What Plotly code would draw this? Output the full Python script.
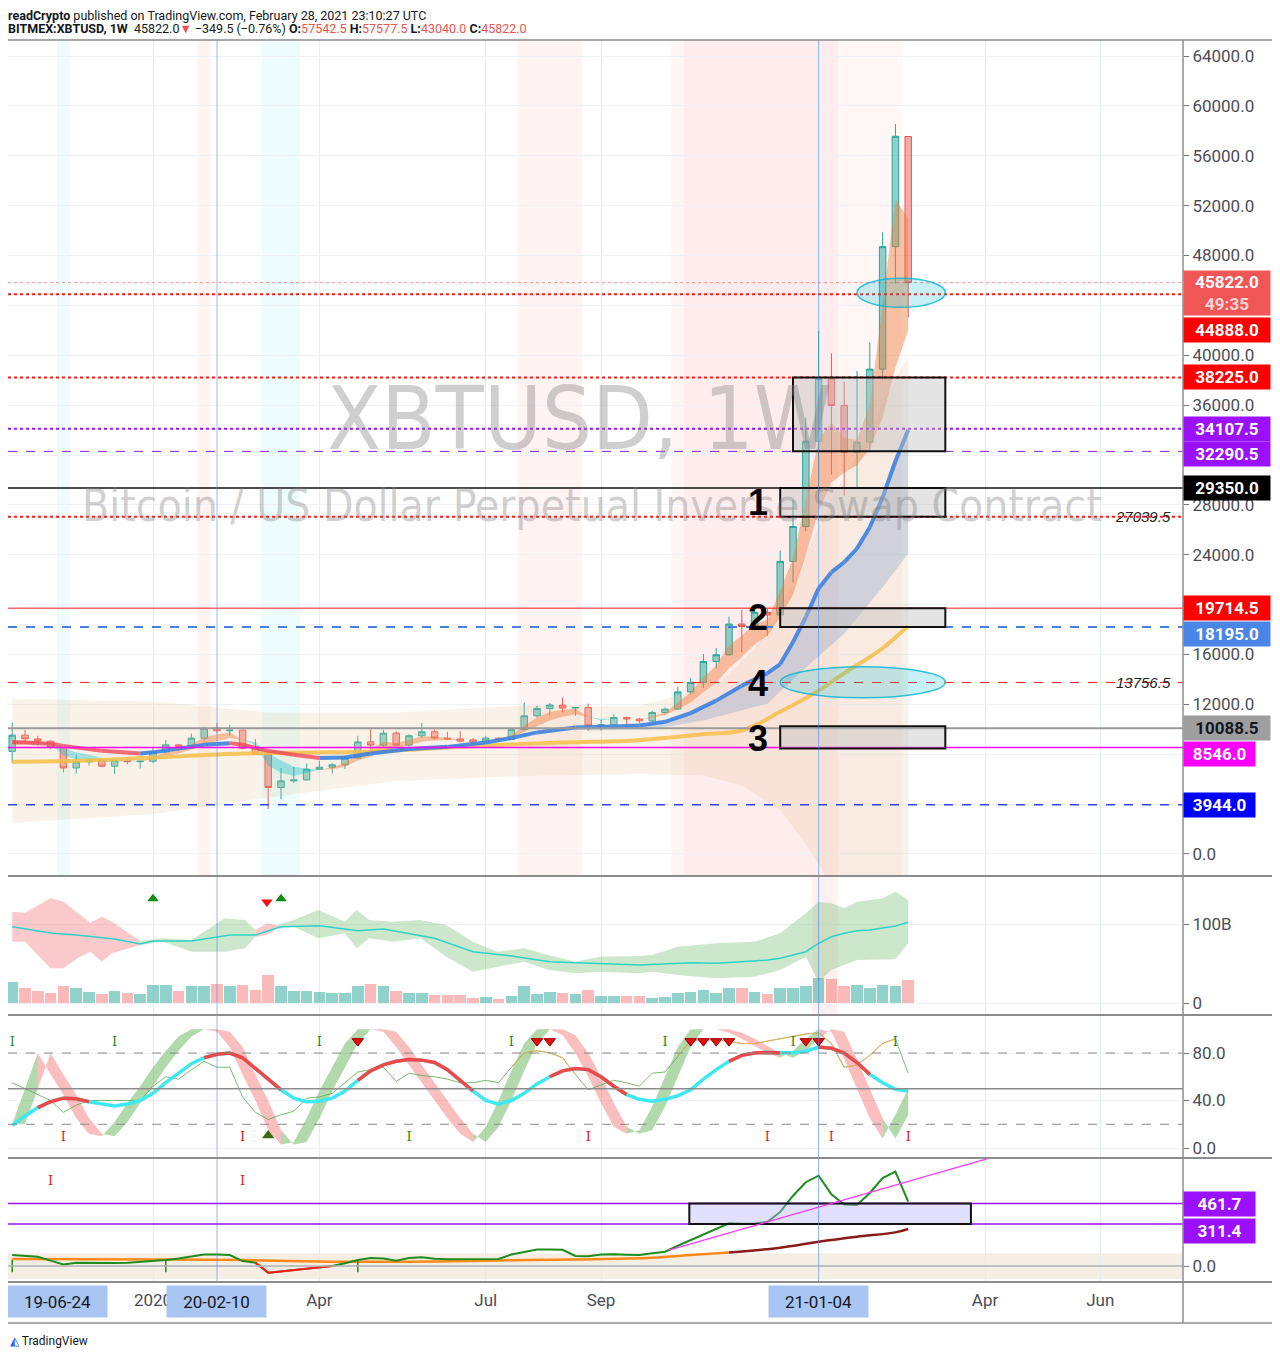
import pandas as pd
import plotly.graph_objects as go
from plotly.subplots import make_subplots

# ---- canvas: the page puts the figure 8px in from the corner, so work in page pixels ----
PAGE_W, PAGE_H, OFF = 1280, 1358, 8
W, H = PAGE_W - OFF, PAGE_H - OFF
X0, X1, Y0, Y1 = 8, 1183, 40, 1282      # plot area in page pixels
ML, MR, MT, MB = X0 - OFF, PAGE_W - X1, Y0 - OFF, PAGE_H - Y1
PW, PH = X1 - X0, Y1 - Y0


def xp(px):
    return (px - X0) / PW


def yp(py):
    return (Y1 - py) / PH


# ---- weekly candles BITMEX:XBTUSD (first bar 2019-10-21) ----
first_week = pd.Timestamp("2019-10-21")
opens = [8230, 9530, 9230, 9050, 8540, 6900, 7390, 7550, 7040, 7520, 7400, 7440, 8190, 8750, 8620, 9290,
         10080, 9880, 9930, 8450, 8020, 5330, 5860, 5940, 6800, 6960, 7150, 7690, 8990, 8730, 9690, 8730,
         9480, 9800, 9290, 9230, 9150, 8980, 9290, 9180, 9990, 11080, 11670, 11940, 11700, 11750, 10280,
         10360, 10950, 10820, 10680, 11350, 11620, 13000, 13760, 15440, 15980, 18440, 18250, 19380, 19170,
         23470, 26260, 33110, 38120, 35970, 32230, 33030, 38890, 48710, 57542.5]
highs = [10540, 9950, 9480, 9100, 8550, 7950, 7650, 7560, 7520, 7700, 7500, 8500, 9150, 8800, 9660, 10200,
         10500, 10370, 9950, 9230, 8180, 6900, 6980, 7250, 7470, 7300, 7800, 9480, 10150, 9960, 9850, 9600,
         10490, 10000, 9800, 9870, 9300, 9450, 9350, 10000, 12150, 11900, 12100, 12550, 11800, 12070, 10750,
         11200, 11000, 10900, 11500, 11750, 13400, 14100, 16040, 16500, 19030, 19570, 19570, 19650, 24330,
         28400, 34990, 41950, 40150, 37860, 38750, 41030, 49860, 58540, 57577.5]
lows = [7300, 8950, 8700, 8400, 6550, 6440, 7100, 6950, 6420, 7200, 6850, 7300, 8100, 8250, 8550, 9100,
        9700, 9480, 8400, 7950, 3596, 4400, 5700, 5900, 6750, 6450, 6800, 7600, 8200, 8600, 8650, 8600,
        9300, 9200, 9200, 8950, 8900, 8950, 9000, 9150, 9900, 10950, 11080, 11350, 11080, 9880, 9900,
        10250, 10280, 10500, 10550, 11200, 11550, 12800, 13300, 14900, 15900, 16170, 18000, 17500, 19000,
        21780, 25880, 28100, 30430, 28740, 29340, 32300, 38040, 45750, 43040]
closes = [9530, 9230, 9050, 8540, 6900, 7390, 7550, 7040, 7520, 7400, 7440, 8190, 8750, 8620, 9290, 10080,
          9880, 9930, 8450, 8020, 5330, 5860, 5940, 6800, 6960, 7150, 7690, 8990, 8730, 9690, 8730, 9480,
          9800, 9290, 9230, 9050, 8980, 9290, 9180, 9990, 11080, 11670, 11940, 11700, 11750, 10280, 10360,
          10950, 10820, 10680, 11350, 11620, 13000, 13760, 15440, 15980, 18440, 18250, 19380, 19170, 23470,
          26260, 33110, 38120, 35970, 32230, 33030, 38890, 48710, 57560, 45822.0]
# volume, billions of contracts
volumes = [26, 19, 15, 13, 21, 19, 14, 11, 15, 13, 11, 23, 23, 15, 22, 22, 24, 21, 23, 17, 35, 21, 15, 15,
           14, 13, 13, 22, 24, 21, 15, 13, 13, 10, 10, 10, 6, 8, 5, 9, 21, 11, 14, 13, 11, 16, 9, 9, 9, 9,
           6, 8, 13, 14, 16, 13, 19, 19, 14, 11, 19, 19, 22, 32, 30, 22, 23, 19, 23, 21, 29]

# fast ribbon (two short averages)
rib_fast = [8990, 9100, 9050, 8800, 7900, 7600, 7580, 7350, 7420, 7420, 7430, 7750, 8200, 8400, 8800, 9350,
            9600, 9750, 9200, 8700, 7100, 6500, 6250, 6500, 6750, 6950, 7300, 8100, 8400, 9000, 8900, 9150,
            9450, 9400, 9320, 9200, 9130, 9200, 9200, 9550, 10300, 10950, 11400, 11550, 11650, 11000, 10700,
            10800, 10820, 10750, 11050, 11350, 12150, 12950, 14200, 15100, 16750, 17500, 18450, 18800, 21100,
            23700, 28400, 33200, 34600, 33400, 33200, 36000, 44000, 52500, 51000]
rib_slow = [8700, 8800, 8850, 8850, 8500, 8150, 7950, 7700, 7600, 7500, 7450, 7600, 7850, 8050, 8350, 8750,
            9050, 9300, 9150, 8950, 8100, 7500, 7000, 6850, 6750, 6800, 7000, 7500, 7800, 8300, 8450, 8700,
            9000, 9100, 9150, 9150, 9130, 9150, 9160, 9350, 9800, 10250, 10700, 11000, 11200, 11000, 10850,
            10850, 10840, 10800, 10950, 11150, 11600, 12150, 13000, 13700, 14900, 15800, 16800, 17500, 19000,
            20800, 24000, 27500, 29800, 30600, 31200, 32500, 35000, 39000, 42000]

# slow averages (sampled at bar index)
ma_idx = [0, 3, 4, 7, 10, 11, 13, 15, 17, 18, 20, 22, 24, 26, 28, 31, 34, 37, 39, 41, 44, 47, 49, 51, 53,
          55, 57, 59, 60, 61, 62, 63, 64, 65, 66, 67, 68, 69, 70]
ma_val = [8990, 8850, 8670, 8270, 8050, 8150, 8450, 8750, 8890, 8760, 8270, 7950, 7700, 7740, 8050, 8410,
          8590, 8940, 9300, 9750, 10150, 10230, 10300, 10600, 11300, 12300, 13500, 14500, 15230, 17000,
          19000, 21300, 22600, 23400, 24500, 26200, 28600, 31500, 34000]
ma_low_idx = [44, 45, 50, 54, 59, 62, 65, 68, 70]
ma_low_val = [10150, 9900, 10000, 10700, 12050, 14960, 17660, 21400, 24090]
long_idx = [0, 5, 11, 18, 25, 30, 35, 43, 49, 54, 57, 60, 63, 65, 68, 70]
long_val = [7390, 7470, 7730, 8050, 8150, 8300, 8600, 8940, 9130, 9610, 9900, 11400, 13100, 14500, 16500, 18300]

# wide envelope
env_up_idx = [0, 11, 20, 30, 40, 49, 55, 58, 60, 62, 64, 66, 68, 70]
env_up_val = [12450, 12230, 11350, 11350, 11900, 11900, 13500, 16500, 19500, 24000, 28500, 32000, 36000, 40000]
env_lo_idx = [0, 11, 20, 30, 40, 49, 54, 57, 60, 62, 64, 67, 70]
env_lo_val = [2490, 3200, 4520, 5860, 6260, 6420, 6300, 5500, 3500, 800, -2500, -5500, -8000]

# volume pane oscillator line + band
vline_idx = [0, 3, 5, 8, 10, 11, 14, 17, 19, 21, 24, 27, 29, 33, 36, 39, 42, 45, 49, 53, 55, 57, 59, 60, 62,
             63, 64, 65, 66, 67, 68, 69, 70]
vline_val = [96.6, 88.6, 86.1, 81, 74.7, 78.5, 78.5, 86.1, 86.1, 96.6, 97.8, 91.5, 93.7, 81.9, 64.9, 59.5,
             52.3, 50.3, 48.1, 51, 50.3, 52.3, 54.4, 56.6, 64.9, 75.6, 83.9, 88.2, 91.5, 92.4, 94.6, 97.5, 102.2]
vband_idx = [0, 1, 3, 4, 5.1, 6.1, 7, 7.8, 10, 11.8, 14, 16.6, 18.2, 19, 19.9, 20.7, 22, 23.9, 26, 26.9, 27.9,
             29.7, 31.9, 33.9, 36, 37.9, 40, 41.9, 44, 45.9, 49, 50, 52, 55, 58, 60, 62, 63, 64, 65, 66, 68,
             69, 70]
vband_up = [115.6, 114.3, 132.5, 128.2, 114.3, 101.6, 109.3, 102.9, 78.5, 81.9, 79.7, 107.2, 105, 92.4, 100.9,
            98.7, 105, 117.7, 102.9, 117.7, 105, 102.9, 105, 98.7, 77.6, 64.9, 69.2, 60.8, 52.3, 58.6, 59.5,
            60.8, 71.3, 75.6, 77.6, 88.2, 113.5, 128.2, 126.2, 119.9, 128.2, 132.5, 140.9, 130.4]
vband_lo = [77.6, 77.6, 43.9, 43.9, 56.6, 64.9, 52.3, 62.9, 73.4, 77.6, 64.9, 64.9, 69.2, 83.9, 86.1, 94.6,
            96.6, 81.9, 88.2, 69.2, 81.9, 77.6, 81.9, 58.6, 39.6, 45.9, 52.3, 41.8, 37.6, 39.6, 37.6, 39.6,
            35.4, 31.3, 33.3, 41.8, 58.6, 27, 41.8, 48.1, 54.4, 55.3, 55.3, 75.6]
vband_red_spans = [(0, 10), (19, 20.7)]
vband_green_spans = [(10, 19), (20.7, 70)]

# stochastic pane
stoch_main = [19, 27, 34, 39, 42, 41.5, 39, 37, 35.4, 37, 40, 46, 55, 63, 71, 76, 79, 80, 76, 67, 58, 49, 42,
              39, 39.5, 42, 48, 57, 65, 70, 73, 74.5, 74, 72, 66, 57, 48, 40, 37, 40, 46, 54, 60, 65, 67, 66,
              60, 52, 45, 41, 39.5, 41, 44, 49, 58, 66, 73, 78, 80, 80.5, 80, 80.2, 81.5, 85, 84, 80, 72, 62,
              55, 49.5, 48]
stoch_red_spans = [(2, 6), (15, 21), (27, 36), (42, 48), (56, 60), (63, 67)]
stoch_fast = [20, 50, 80, 62, 45, 25, 12, 10, 22, 38, 52, 68, 82, 94, 100, 100, 98, 85, 62, 40, 15, 3, 5, 25,
              48, 68, 88, 100, 100, 98, 85, 70, 55, 40, 25, 12, 5, 18, 40, 65, 88, 100, 100, 95, 80, 60, 38,
              18, 12, 15, 35, 60, 85, 100, 100, 100, 97, 92, 86, 80, 76, 82, 92, 100, 98, 75, 50, 25, 8, 28, 50]
stoch_raw = [55, 50, 45, 40, 30, 36, 40, 40, 40, 40, 40, 52, 60, 58, 66, 73, 68, 68, 43, 30, 24, 28, 31, 42,
             43, 46, 55, 64, 66, 68, 56, 63, 61, 60, 58, 55, 55, 57, 55, 68, 80, 82, 80, 76, 62, 49, 53, 57,
             55, 52, 63, 64, 77, 91, 91, 91, 90, 88, 88, 90, 92, 94, 96, 97, 88, 68, 70, 78, 88, 92, 63]
raw_orange_spans = [(39, 44), (52, 69)]
tick_up_idx = [0, 8, 24, 39, 51, 61, 69]
tick_dn_idx = [4, 18, 45, 59, 64, 70]
tick_low_green_idx = [31]
sell_arrow_idx = [27, 41, 42, 53, 54, 55, 56, 62, 63]
buy_arrow_idx = [20]
vol_buy_idx = [11, 21]
vol_sell_idx = [20]

# bottom indicator
osc = [81, 75, 69, 40, 12, 25, 24, 20, 22, 25, 30, 37, 44, 55, 70, 86, 85, 81, 37, 25, -49, -40, -30, -20, -8,
       0, 20, 44, 60, 55, 40, 60, 65, 54, 50, 50, 50, 50, 52, 85, 105, 123, 122, 120, 75, 72, 85, 88, 84, 81,
       95, 106, 150, 190, 234, 270, 316, 312, 315, 328, 400, 520, 620, 668, 530, 455, 451, 540, 650, 698, 476]
osc_red_span = (19, 25)
osc_ma_idx = [0, 12, 18, 25, 31, 37, 44, 50, 53, 56, 60, 63, 66, 69, 70]
osc_ma_val = [52, 49, 44, 32, 32, 40, 49, 62, 81, 101, 136, 180, 217, 249, 274]
osc_tick_idx = [3, 18]
osc_base_idx = [0, 12, 27]

dates = [first_week + pd.Timedelta(days=7 * i) for i in range(len(closes))]


def bx(i):
    return first_week + pd.Timedelta(days=7 * i)


def spans_split(idx, vals, spans):
    """x/y lists (None separated) for points falling inside the given index spans"""
    xs, ys = [], []
    for a, b in spans:
        for i, v in zip(idx, vals):
            if a <= i <= b:
                xs.append(bx(i))
                ys.append(v)
        xs.append(None)
        ys.append(None)
    return xs, ys


fig = make_subplots(rows=4, cols=1, shared_xaxes=True, vertical_spacing=0)

GREEN_UP = "#26a69a"
RED_DN = "#ef5350"

# ================= main pane =================
# envelope
ex = [bx(i) for i in env_up_idx] + [bx(i) for i in env_lo_idx[::-1]]
ey = env_up_val + env_lo_val[::-1]
fig.add_trace(go.Scatter(x=ex, y=ey, fill="toself", fillcolor="rgba(226,196,150,0.22)",
                         line=dict(width=0), hoverinfo="skip"), row=1, col=1)

# blue band under the slow average
b_idx = [i for i in ma_idx if i >= 44]
b_val = [v for i, v in zip(ma_idx, ma_val) if i >= 44]
fig.add_trace(go.Scatter(x=[bx(i) for i in b_idx] + [bx(i) for i in ma_low_idx[::-1]],
                         y=b_val + ma_low_val[::-1], fill="toself",
                         fillcolor="rgba(70,120,190,0.22)", line=dict(width=0), hoverinfo="skip"),
              row=1, col=1)

# fast ribbon, orange when fast > slow, cyan otherwise
for want_up, colr in [(True, "rgba(240,125,60,0.45)"), (False, "rgba(0,190,210,0.35)")]:
    xs, ys = [], []
    for i in range(len(rib_fast) - 1):
        up = (rib_fast[i] + rib_fast[i + 1]) >= (rib_slow[i] + rib_slow[i + 1])
        if up != want_up:
            continue
        xs += [dates[i], dates[i + 1], dates[i + 1], dates[i], dates[i], None]
        ys += [rib_fast[i], rib_fast[i + 1], rib_slow[i + 1], rib_slow[i], rib_fast[i], None]
    fig.add_trace(go.Scatter(x=xs, y=ys, fill="toself", fillcolor=colr, line=dict(width=0),
                             hoverinfo="skip"), row=1, col=1)

# long average
fig.add_trace(go.Scatter(x=[bx(i) for i in long_idx], y=long_val, mode="lines",
                         line=dict(color="rgba(247,190,70,0.85)", width=4, shape="spline"),
                         hoverinfo="skip"), row=1, col=1)

# slow average, red while falling, blue while rising
for falling, colr in [(False, "rgba(60,130,225,0.9)"), (True, "rgba(240,60,80,0.75)")]:
    xs, ys = [], []
    for k in range(len(ma_idx) - 1):
        if (ma_val[k + 1] < ma_val[k]) != falling:
            continue
        xs += [bx(ma_idx[k]), bx(ma_idx[k + 1]), None]
        ys += [ma_val[k], ma_val[k + 1], None]
    fig.add_trace(go.Scatter(x=xs, y=ys, mode="lines", line=dict(color=colr, width=4),
                             hoverinfo="skip"), row=1, col=1)

fig.add_trace(go.Candlestick(
    x=dates, open=opens, high=highs, low=lows, close=closes,
    increasing=dict(line=dict(color=GREEN_UP, width=1), fillcolor="rgba(38,166,154,0.5)"),
    decreasing=dict(line=dict(color=RED_DN, width=1), fillcolor="rgba(239,83,80,0.5)"),
    whiskerwidth=0, hoverinfo="skip"), row=1, col=1)

# ================= volume pane =================
vcol = ["rgba(38,166,154,0.5)" if c >= o else "rgba(239,83,80,0.4)" for o, c in zip(opens, closes)]
fig.add_trace(go.Bar(x=dates, y=volumes, marker=dict(color=vcol, line=dict(width=0)),
                     width=7 * 86400000 * 0.9, hoverinfo="skip"), row=2, col=1)


def band_segments(spans):
    xs, ys = [], []
    for a, b in spans:
        pts = [(i, u, l) for i, u, l in zip(vband_idx, vband_up, vband_lo) if a <= i <= b]
        xs += [bx(p[0]) for p in pts] + [bx(p[0]) for p in pts[::-1]] + [None]
        ys += [p[1] for p in pts] + [p[2] for p in pts[::-1]] + [None]
    return xs, ys


red_x, red_y = band_segments(vband_red_spans)
grn_x, grn_y = band_segments(vband_green_spans)
fig.add_trace(go.Scatter(x=red_x, y=red_y, fill="toself", fillcolor="rgba(242,100,110,0.35)",
                         line=dict(width=0), hoverinfo="skip"), row=2, col=1)
fig.add_trace(go.Scatter(x=grn_x, y=grn_y, fill="toself", fillcolor="rgba(100,180,100,0.32)",
                         line=dict(width=0), hoverinfo="skip"), row=2, col=1)
fig.add_trace(go.Scatter(x=[bx(i) for i in vline_idx], y=vline_val, mode="lines",
                         line=dict(color="#2ed3c6", width=1.5), hoverinfo="skip"), row=2, col=1)
fig.add_trace(go.Scatter(x=[bx(i) for i in vol_buy_idx], y=[132] * len(vol_buy_idx), mode="markers",
                         marker=dict(symbol="triangle-up", size=10, color="#138a13"),
                         hoverinfo="skip"), row=2, col=1)
fig.add_trace(go.Scatter(x=[bx(i - 0.1) for i in vol_sell_idx], y=[128] * len(vol_sell_idx), mode="markers",
                         marker=dict(symbol="triangle-down", size=10, color="#f01010"),
                         hoverinfo="skip"), row=2, col=1)

# ================= stochastic pane =================
for want_up, colr in [(True, "rgba(100,180,90,0.5)"), (False, "rgba(245,110,110,0.45)")]:
    xs, ys = [], []
    for i in range(1, len(stoch_fast)):
        lag_prev = stoch_fast[i - 2] if i >= 2 else stoch_fast[0]
        if (stoch_fast[i] >= stoch_fast[i - 1]) != want_up:
            continue
        xs += [dates[i - 1], dates[i], dates[i], dates[i - 1], dates[i - 1], None]
        ys += [stoch_fast[i - 1], stoch_fast[i], stoch_fast[i - 1], lag_prev, stoch_fast[i - 1], None]
    fig.add_trace(go.Scatter(x=xs, y=ys, fill="toself", fillcolor=colr, line=dict(width=0),
                             hoverinfo="skip"), row=3, col=1)

fig.add_trace(go.Scatter(x=dates, y=stoch_raw, mode="lines",
                         line=dict(color="rgba(90,170,80,0.8)", width=1), hoverinfo="skip"), row=3, col=1)
ox, oy = spans_split(list(range(len(stoch_raw))), stoch_raw, raw_orange_spans)
fig.add_trace(go.Scatter(x=ox, y=oy, mode="lines", line=dict(color="rgba(250,170,90,0.9)", width=1),
                         hoverinfo="skip"), row=3, col=1)
fig.add_trace(go.Scatter(x=dates, y=stoch_main, mode="lines", line=dict(color="#3ee8f0", width=3.5),
                         hoverinfo="skip"), row=3, col=1)
rx, ry = spans_split(list(range(len(stoch_main))), stoch_main, stoch_red_spans)
fig.add_trace(go.Scatter(x=rx, y=ry, mode="lines", line=dict(color="#f04848", width=3.5),
                         hoverinfo="skip"), row=3, col=1)

for idx_list, val, colr in [(tick_up_idx, 89, "#1d8a1d"), (tick_dn_idx, 9, "#f01818"),
                            (tick_low_green_idx, 9, "#1d8a1d")]:
    fig.add_trace(go.Scatter(x=[bx(i) for i in idx_list], y=[val] * len(idx_list), mode="text", text="I",
                             textfont=dict(color=colr, size=13, family="DejaVu Serif"),
                             hoverinfo="skip"), row=3, col=1)
fig.add_trace(go.Scatter(x=[bx(i) for i in sell_arrow_idx], y=[90] * len(sell_arrow_idx), mode="markers",
                         marker=dict(symbol="triangle-down", size=10, color="#e01010",
                                     line=dict(color="#a00000", width=1)), hoverinfo="skip"), row=3, col=1)
fig.add_trace(go.Scatter(x=[bx(i) for i in buy_arrow_idx], y=[10.5], mode="markers",
                         marker=dict(symbol="triangle-up", size=11, color="#3f6b10"),
                         hoverinfo="skip"), row=3, col=1)

# ================= bottom indicator =================
fig.add_trace(go.Scatter(x=[bx(i) for i in osc_ma_idx if i <= 56],
                         y=[v for i, v in zip(osc_ma_idx, osc_ma_val) if i <= 56], mode="lines",
                         line=dict(color="#ff8a1a", width=2.5, shape="spline"), hoverinfo="skip"), row=4, col=1)
fig.add_trace(go.Scatter(x=[bx(i) for i in osc_ma_idx if i >= 56],
                         y=[v for i, v in zip(osc_ma_idx, osc_ma_val) if i >= 56], mode="lines",
                         line=dict(color="#8b1a1a", width=2.5, shape="spline"), hoverinfo="skip"), row=4, col=1)
fig.add_trace(go.Scatter(x=dates, y=osc, mode="lines", line=dict(color="#1e8c1e", width=2),
                         hoverinfo="skip"), row=4, col=1)
a, b = osc_red_span
fig.add_trace(go.Scatter(x=dates[a:b + 1], y=osc[a:b + 1], mode="lines", line=dict(color="#ff1a1a", width=2),
                         hoverinfo="skip"), row=4, col=1)
fig.add_trace(go.Scatter(x=[bx(i) for i in osc_tick_idx], y=[622] * len(osc_tick_idx), mode="text", text="I",
                         textfont=dict(color="#f01818", size=13, family="DejaVu Serif"),
                         hoverinfo="skip"), row=4, col=1)
fig.add_trace(go.Scatter(x=[bx(i) for i in osc_base_idx], y=[0] * len(osc_base_idx), mode="markers",
                         marker=dict(symbol="line-ns", size=9, line=dict(color="#1e8c1e", width=1.5)),
                         hoverinfo="skip"), row=4, col=1)

# ================= shapes =================
shapes = []
# background highlight bands
for (a, b, colr, ref) in [(3.5, 4.5, "rgba(0,230,240,0.07)", "y"), (14.5, 15.5, "rgba(255,80,80,0.07)", "y"),
                          (19.5, 22.5, "rgba(0,230,240,0.07)", "y"), (39.5, 44.5, "rgba(255,80,80,0.07)", "y"),
                          (51.5, 64.5, "rgba(255,80,80,0.06)", "y"), (52.5, 69.5, "rgba(255,80,80,0.05)", "y"),
                          (62.5, 64.5, "rgba(255,80,80,0.08)", "y2")]:
    shapes.append(dict(type="rect", xref="x", yref=ref + " domain", x0=bx(a), x1=bx(b), y0=0, y1=1,
                       fillcolor=colr, line=dict(width=0), layer="below"))

# horizontal levels in the price pane
levels = [(45822.0, "rgba(239,83,80,0.6)", "dot", 1), (44888.0, "#ff1a1a", "dot", 2),
          (38225.0, "#ff1a1a", "dot", 2), (34107.5, "#9b10ff", "dot", 2), (32290.5, "#8a20e0", "dash", 1),
          (29350.0, "#111111", "solid", 1.5), (27039.5, "#ff1a1a", "dot", 2), (19714.5, "#ff1a1a", "solid", 1),
          (18195.0, "#4a7fe0", "dash", 2), (13756.5, "#ff1a1a", "dash", 1), (10088.5, "#9a9a9a", "solid", 2),
          (8546.0, "#ff00ff", "solid", 1.5), (3944.0, "#3344ee", "dash", 1.5)]
for v, colr, dash, wd in levels:
    shapes.append(dict(type="line", xref="x domain", yref="y", x0=0, x1=1, y0=v, y1=v,
                       line=dict(color=colr, dash=dash, width=wd)))

# zones
for (i0, i1, v0, v1) in [(61, 72.9, 38225.0, 32290.5), (60, 72.9, 29350.0, 27039.5),
                         (60, 72.9, 19714.5, 18195.0), (60, 72.9, 10250, 8450)]:
    shapes.append(dict(type="rect", xref="x", yref="y", x0=bx(i0), x1=bx(i1), y0=v0, y1=v1,
                       fillcolor="rgba(190,190,190,0.42)", line=dict(color="#111111", width=2)))
for (i0, i1, v0, v1) in [(66, 72.9, 46170, 43840), (60, 72.9, 15020, 12530)]:
    shapes.append(dict(type="circle", xref="x", yref="y", x0=bx(i0), x1=bx(i1), y0=v0, y1=v1,
                       fillcolor="rgba(0,190,215,0.22)", line=dict(color="rgba(0,180,210,0.8)", width=1.5)))

# stochastic guides
for v, dash, colr, wd in [(80, "dash", "#8a8a8a", 1), (20, "dash", "#8a8a8a", 1), (50, "solid", "#8c8c8c", 1.5)]:
    shapes.append(dict(type="line", xref="x3 domain", yref="y3", x0=0, x1=1, y0=v, y1=v,
                       line=dict(color=colr, dash=dash, width=wd)))

# bottom indicator guides
shapes.append(dict(type="rect", xref="x4 domain", yref="y4", x0=0, x1=1, y0=-96, y1=94,
                   fillcolor="rgba(222,200,170,0.3)", line=dict(width=0), layer="below"))
for v, colr in [(461.7, "#9b10ff"), (311.4, "#9b10ff"), (0, "#b0b0b0")]:
    shapes.append(dict(type="line", xref="x4 domain", yref="y4", x0=0, x1=1, y0=v, y1=v,
                       line=dict(color=colr, width=1.5)))
shapes.append(dict(type="rect", xref="x4", yref="y4", x0=bx(52.9), x1=bx(74.9), y0=461.7, y1=311.4,
                   fillcolor="rgba(180,180,255,0.4)", line=dict(color="#111111", width=2)))
shapes.append(dict(type="line", xref="x4", yref="y4", x0=bx(51.3), x1=bx(76.4), y0=118, y1=800,
                   line=dict(color="#ff33ff", width=1.2)))

# vertical date markers
for d in ["2020-02-10", "2021-01-04"]:
    shapes.append(dict(type="line", xref="x", yref="paper", x0=d, x1=d, y0=0, y1=1,
                       line=dict(color="rgba(66,133,244,0.55)", width=1)))

# pane separators and frame
for py in [876, 1015, 1158, 1282]:
    shapes.append(dict(type="line", xref="paper", yref="paper", x0=xp(5), x1=xp(1274), y0=yp(py), y1=yp(py),
                       line=dict(color="#8c8c8c", width=2)))
shapes.append(dict(type="rect", xref="paper", yref="paper", x0=xp(5), x1=xp(1274), y0=yp(1323), y1=yp(40),
                   line=dict(color="#8c8c8c", width=1.5)))
shapes.append(dict(type="line", xref="paper", yref="paper", x0=1, x1=1, y0=yp(1323), y1=yp(40),
                   line=dict(color="#8c8c8c", width=1.5)))

# ================= annotations =================
ann = []
FONT = "Roboto"
HEAD_FONT = dict(family="Liberation Sans Narrow, Roboto", size=12.5, color="#131722")
ann.append(dict(xref="paper", yref="paper", x=xp(6), y=yp(16), xanchor="left", yanchor="middle",
                showarrow=False, font=HEAD_FONT,
                text="<b>readCrypto</b> published on TradingView.com, February 28, 2021 23:10:27 UTC"))
ann.append(dict(xref="paper", yref="paper", x=xp(6), y=yp(29), xanchor="left", yanchor="middle",
                showarrow=False, font=HEAD_FONT,
                text="<b>BITMEX:XBTUSD, 1W</b>  45822.0<span style='color:#ef5350'>▼</span> −349.5 (−0.76%) "
                     "<b>O:</b><span style='color:#ef5350'>57542.5</span> <b>H:</b><span style='color:#ef5350'>57577.5</span> "
                     "<b>L:</b><span style='color:#ef5350'>43040.0</span> <b>C:</b><span style='color:#ef5350'>45822.0</span>"))

# watermark
WM_FONT = "DejaVu Sans Condensed, Roboto Condensed, Roboto"
ann.append(dict(xref="paper", yref="paper", x=xp(579), y=yp(365), xanchor="center", yanchor="top",
                showarrow=False, text="XBTUSD, 1W",
                font=dict(family=WM_FONT, size=88, color="rgba(130,130,130,0.38)")))
ann.append(dict(xref="paper", yref="paper", x=xp(592), y=yp(505), xanchor="center", yanchor="middle",
                showarrow=False, text="Bitcoin / US Dollar Perpetual Inverse Swap Contract",
                font=dict(family=WM_FONT, size=44, color="rgba(130,130,130,0.38)")))

# zone numbers
for txt, v in [("1", 28190), ("2", 18950), ("4", 13650), ("3", 9230)]:
    ann.append(dict(xref="x", yref="y", x=bx(58.3), y=v, showarrow=False, text="<b>" + txt + "</b>",
                    xanchor="center", yanchor="middle",
                    font=dict(family="Liberation Sans, Arial", size=36, color="#000000")))

# italic level labels
for v in [27039.5, 13756.5]:
    ann.append(dict(xref="paper", yref="y", x=xp(1143), y=v, xanchor="center", yanchor="middle",
                    showarrow=False, text="<i>%.1f</i>" % v,
                    font=dict(family="Liberation Sans, Arial", size=15, color="#222222")))

# price tags on the right scale
tags = [(45822.0, "45822.0<br><span style='color:rgba(255,255,255,0.75)'>49:35</span>", "#f05656", "white", -10, "y"),
        (44888.0, "44888.0", "#ff0000", "white", -36, "y"), (38225.0, "38225.0", "#ff0000", "white", 0, "y"),
        (34107.5, "34107.5", "#9b10ff", "white", 0, "y"), (32290.5, "32290.5", "#9b10ff", "white", -3, "y"),
        (29350.0, "29350.0", "#000000", "white", 0, "y"), (19714.5, "19714.5", "#ff0000", "white", 0, "y"),
        (18195.0, "18195.0", "#4a86e8", "white", -7, "y"), (10088.5, "10088.5", "#9e9e9e", "#131722", 0, "y"),
        (8546.0, "8546.0", "#ff00ff", "white", -7, "y"), (3944.0, "3944.0", "#0000ff", "white", 0, "y"),
        (461.7, "461.7", "#9b10ff", "white", 0, "y4"), (311.4, "311.4", "#9b10ff", "white", -7, "y4")]
for v, txt, bg, fg, shift, ref in tags:
    two_line = "<br>" in txt
    box_w = 82 if len(txt.split("<br>")[0]) >= 7 else 67
    ann.append(dict(xref="paper", yref=ref, x=xp(1183), y=v, xanchor="left", yanchor="middle", yshift=shift,
                    showarrow=False, text="<b>" + txt + "</b>", align="center", bgcolor=bg, borderpad=2,
                    width=box_w, height=40 if two_line else 20,
                    font=dict(family=FONT, size=17, color=fg)))

# date tags on the time scale
for px0, txt in [(8, "19-06-24"), (167, "20-02-10"), (769, "21-01-04")]:
    ann.append(dict(xref="paper", yref="paper", x=xp(px0 + 49.5), y=yp(1301), xanchor="center",
                    yanchor="middle", showarrow=False, text=txt, bgcolor="#a9c5f2", borderpad=2,
                    width=95, height=27, font=dict(family=FONT, size=17, color="#131722")))

ann.append(dict(xref="paper", yref="paper", x=xp(8), y=yp(1341), xanchor="left", yanchor="middle",
                showarrow=False, text="<span style='color:#2962ff'>◭</span> TradingView",
                font=dict(family="Liberation Sans Narrow, Roboto", size=12, color="#131722")))

# ================= axes =================
tick_font = dict(family=FONT, size=17, color="#4a4d57")
# 2021 tick keeps its grid line; its label sits under the 21-01-04 tag
month_vals = ["2020-01-06", "2020-04-06", "2020-07-06", "2020-09-07", "2021-01-04", "2021-04-05", "2021-06-07"]
month_text = ["2020", "Apr", "Jul", "Sep", "", "Apr", "Jun"]
x_range = [bx((X0 - 12.2) / 12.8), bx((X1 - 12.2) / 12.8)]
for r in range(1, 5):
    fig.update_xaxes(row=r, col=1, range=x_range, tickvals=month_vals, ticktext=month_text,
                     showgrid=True, gridcolor="#e6ecf4", showline=False, zeroline=False,
                     showticklabels=(r == 4), ticks="", tickfont=tick_font, ticklabelstandoff=6,
                     rangeslider=dict(visible=False))

# scale labels hidden behind the price tags stay as grid lines only
price_ticks = list(range(0, 64001, 4000))
hidden_ticks = {4000, 8000, 20000, 32000, 44000}
price_text = ["" if t in hidden_ticks else "%.1f" % t for t in price_ticks]
axis_common = dict(side="right", gridcolor="#eef1f6", zeroline=False, ticks="outside", ticklen=5,
                   tickcolor="#777", tickfont=tick_font)
fig.update_yaxes(row=1, col=1, range=[-1767, 65285], tickvals=price_ticks, ticktext=price_text, **axis_common)
fig.update_yaxes(row=2, col=1, range=[-15.2, 160.8], tickvals=[0, 100], ticktext=["0", "100B"], **axis_common)
fig.update_yaxes(row=3, col=1, range=[-8.4, 112], tickvals=[0, 40, 80], ticktext=["0.0", "40.0", "80.0"],
                 **axis_common)
fig.update_yaxes(row=4, col=1, range=[-118, 799], tickvals=[0], ticktext=["0.0"], **axis_common)

fig.update_layout(
    yaxis=dict(domain=[yp(876), 1]),
    yaxis2=dict(domain=[yp(1015), yp(876)]),
    yaxis3=dict(domain=[yp(1158), yp(1015)]),
    yaxis4=dict(domain=[0, yp(1158)]),
    width=W, height=H, margin=dict(l=ML, r=MR, t=MT, b=MB, pad=0),
    paper_bgcolor="white", plot_bgcolor="white", showlegend=False, bargap=0, boxgap=0.28,
    shapes=shapes, annotations=ann, font=dict(family=FONT),
)

fig.write_html("out.html")
